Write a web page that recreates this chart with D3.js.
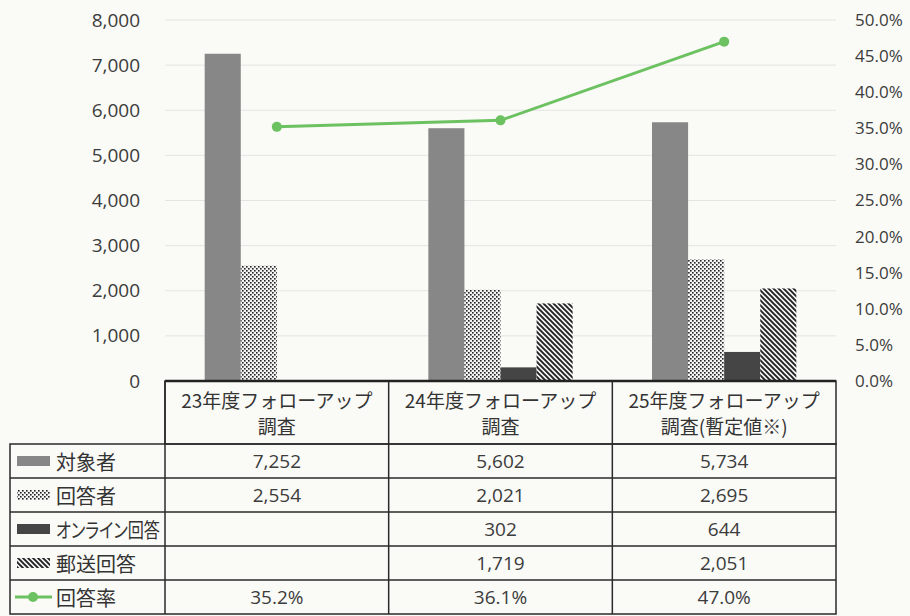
<!DOCTYPE html>
<html><head><meta charset="utf-8">
<script src="https://cdn.jsdelivr.net/npm/d3@7"></script>
<style>
html,body{margin:0;padding:0;background:#fafaf6;}
svg{display:block;}
.num{font-family:"Open Sans","Liberation Sans",sans-serif;font-size:19px;fill:#3c3c3c;}
.num.r{font-size:17px;}
.jp{font-family:"Noto Sans CJK JP",sans-serif;font-size:19px;fill:#333;}
.jp.leg{font-size:20px;font-feature-settings:"palt";}
</style></head>
<body>
<script>
// ---- data ----
const categories = ["23年度フォローアップ調査", "24年度フォローアップ調査", "25年度フォローアップ調査(暫定値※)"];
const categoryLines = [["23年度フォローアップ", "調査"], ["24年度フォローアップ", "調査"], ["25年度フォローアップ", "調査(暫定値※)"]];
const seriesNames = ["対象者", "回答者", "オンライン回答", "郵送回答"];
const targets = [7252, 5602, 5734];
const respondents = [2554, 2021, 2695];
const online = [null, 302, 644];
const mail = [null, 1719, 2051];
const rateName = "回答率";
const rates = [35.2, 36.1, 47.0];
const leftTicks = [0, 1000, 2000, 3000, 4000, 5000, 6000, 7000, 8000];
const rightTicks = [0, 5, 10, 15, 20, 25, 30, 35, 40, 45, 50];

const seriesValues = [targets, respondents, online, mail];

const W = 910, H = 616;
const plot = {x0: 165, x1: 836, y0: 20, y1: 381};
const legendX0 = 10;
const rowEdges = [381, 444, 478, 512, 546, 580, 614];

const svg = d3.select("body").append("svg").attr("width", W).attr("height", H);
const defs = svg.append("defs");

// patterns
const pDots = defs.append("pattern").attr("id", "dots").attr("patternUnits", "userSpaceOnUse").attr("width", 4).attr("height", 4);
pDots.append("rect").attr("width", 4).attr("height", 4).attr("fill", "#f4f4f4");
pDots.append("rect").attr("x", 0).attr("y", 0).attr("width", 1.6).attr("height", 1.6).attr("fill", "#222");
pDots.append("rect").attr("x", 2).attr("y", 2).attr("width", 1.6).attr("height", 1.6).attr("fill", "#222");

const pStripe = defs.append("pattern").attr("id", "stripes").attr("patternUnits", "userSpaceOnUse").attr("width", 5).attr("height", 5);
pStripe.append("rect").attr("width", 5).attr("height", 5).attr("fill", "#f4f4f4");
pStripe.append("path").attr("d", "M-1,-1 L6,6 M-1,4 L1,6 M4,-1 L6,1").attr("stroke", "#222").attr("stroke-width", 1.9);

const fills = ["#878787", "url(#dots)", "#454545", "url(#stripes)"];

// scales
const x = d3.scaleBand().domain(categories).range([plot.x0, plot.x1]);
const xs = d3.scaleBand().domain(seriesNames).range([0, x.bandwidth()]).paddingOuter(1.1);
const y = d3.scaleLinear().domain([0, 8000]).range([plot.y1, plot.y0]);
const y2 = d3.scaleLinear().domain([0, 50]).range([plot.y1, plot.y0]);

// gridlines
svg.append("g").selectAll("line").data(leftTicks.filter(d => d > 0)).join("line")
  .attr("x1", plot.x0).attr("x2", plot.x1)
  .attr("y1", d => y(d)).attr("y2", d => y(d))
  .attr("stroke", "#e4e4e2").attr("stroke-width", 1);

// axes
const axL = svg.append("g").attr("transform", `translate(${plot.x0},0)`)
  .call(d3.axisLeft(y).tickValues(leftTicks).tickSize(0).tickPadding(25).tickFormat(d3.format(",")));
axL.select(".domain").remove();
axL.selectAll("text").attr("class", "num").attr("font-size", null).attr("font-family", null);

const axR = svg.append("g").attr("transform", `translate(${plot.x1},0)`)
  .call(d3.axisRight(y2).tickValues(rightTicks).tickSize(0).tickPadding(19).tickFormat(d => d.toFixed(1) + "%"));
axR.select(".domain").remove();
axR.selectAll("text").attr("class", "num r").attr("font-size", null).attr("font-family", null);

// bars
const barData = [];
seriesNames.forEach((s, si) => {
  categories.forEach((c, ci) => {
    const v = seriesValues[si][ci];
    if (v != null) barData.push({s, si, c, v});
  });
});
svg.append("g").selectAll("rect").data(barData).join("rect")
  .attr("x", d => x(d.c) + xs(d.s))
  .attr("width", xs.bandwidth())
  .attr("y", d => y(d.v))
  .attr("height", d => y(0) - y(d.v))
  .attr("fill", d => fills[d.si]);

// line
const lineColor = "#6cc160";
const line = d3.line().x((d, i) => x(categories[i]) + x.bandwidth() / 2).y(d => y2(d));
svg.append("path").datum(rates).attr("d", line).attr("fill", "none")
  .attr("stroke", lineColor).attr("stroke-width", 3);
svg.append("g").selectAll("circle").data(rates).join("circle")
  .attr("cx", (d, i) => x(categories[i]) + x.bandwidth() / 2)
  .attr("cy", d => y2(d)).attr("r", 5).attr("fill", lineColor);

// table
const tb = svg.append("g");
const stroke = "#2a2a2a";
tb.append("rect").attr("x", plot.x0).attr("y", rowEdges[0]).attr("width", plot.x1 - plot.x0).attr("height", rowEdges[1] - rowEdges[0])
  .attr("fill", "none").attr("stroke", stroke).attr("stroke-width", 1.5);
tb.append("line").attr("x1", plot.x0).attr("x2", plot.x1).attr("y1", plot.y1).attr("y2", plot.y1).attr("stroke", "#222").attr("stroke-width", 2.5);
tb.append("rect").attr("x", legendX0).attr("y", rowEdges[1]).attr("width", plot.x1 - legendX0).attr("height", rowEdges[6] - rowEdges[1])
  .attr("fill", "none").attr("stroke", stroke).attr("stroke-width", 1.5);
tb.selectAll("line.h").data(rowEdges.slice(2, 6)).join("line").attr("class", "h")
  .attr("x1", legendX0).attr("x2", plot.x1).attr("y1", d => d).attr("y2", d => d).attr("stroke", stroke).attr("stroke-width", 1.3);
const vx = [plot.x0, x(categories[1]), x(categories[2])];
tb.selectAll("line.v").data(vx).join("line").attr("class", "v")
  .attr("x1", d => d).attr("x2", d => d).attr("y1", rowEdges[0]).attr("y2", rowEdges[6]).attr("stroke", stroke).attr("stroke-width", 1.5);

// header text
categoryLines.forEach((lines, ci) => {
  lines.forEach((t, li) => {
    tb.append("text").attr("class", "jp")
      .attr("x", x(categories[ci]) + x.bandwidth() / 2)
      .attr("y", rowEdges[0] + 18 + li * 26)
      .attr("text-anchor", "middle").attr("dominant-baseline", "central").text(t);
  });
});

// legend rows
const legendNames = seriesNames.concat([rateName]);
legendNames.forEach((name, i) => {
  const cy = (rowEdges[i + 1] + rowEdges[i + 2]) / 2;
  if (i < 4) {
    tb.append("rect").attr("x", 17).attr("y", cy - 5).attr("width", 33).attr("height", 10).attr("fill", fills[i]);
  } else {
    tb.append("line").attr("x1", 15).attr("x2", 52).attr("y1", cy).attr("y2", cy).attr("stroke", lineColor).attr("stroke-width", 3);
    tb.append("circle").attr("cx", 33).attr("cy", cy).attr("r", 5).attr("fill", lineColor);
  }
  const t = tb.append("text").attr("class", "jp leg").attr("x", 56).attr("y", cy)
    .attr("dominant-baseline", "central").text(name);
  if (name.length > 5) t.attr("textLength", 104).attr("lengthAdjust", "spacingAndGlyphs");
});

// values
const fmt = d3.format(",");
seriesValues.forEach((vals, si) => {
  const cy = (rowEdges[si + 1] + rowEdges[si + 2]) / 2;
  vals.forEach((v, ci) => {
    if (v == null) return;
    tb.append("text").attr("class", "num").attr("x", x(categories[ci]) + x.bandwidth() / 2).attr("y", cy)
      .attr("text-anchor", "middle").attr("dominant-baseline", "central").text(fmt(v));
  });
});
rates.forEach((v, ci) => {
  const cy = (rowEdges[5] + rowEdges[6]) / 2;
  tb.append("text").attr("class", "num").attr("x", x(categories[ci]) + x.bandwidth() / 2).attr("y", cy)
    .attr("text-anchor", "middle").attr("dominant-baseline", "central").text(v.toFixed(1) + "%");
});
</script>
</body></html>
